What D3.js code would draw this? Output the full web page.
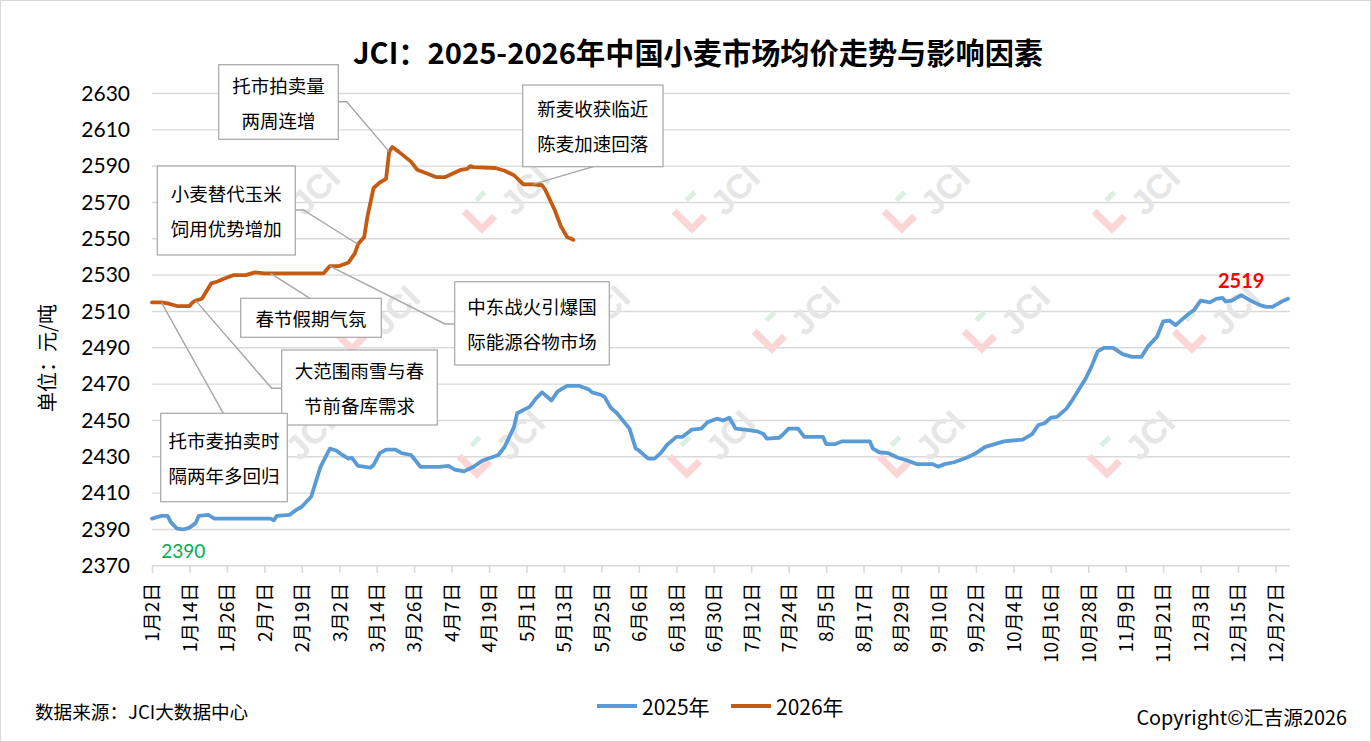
<!DOCTYPE html>
<html>
<head>
<meta charset="utf-8">
<script src="https://cdn.jsdelivr.net/npm/d3@7/dist/d3.min.js"></script>
<style>
  body { margin: 0; background: #fff; }
  svg { display: block; }
</style>
</head>
<body>
<svg id="chart"></svg>
<script>
// 2025 daily average price (flat stretches only at their ends)
const dates2025 = [
  "1-2","1-5","1-7","1-8","1-10","1-12","1-14","1-16","1-17","1-20",
  "1-22","2-9","2-10","2-11","2-15","2-17","2-19","2-22","2-24","2-25",
  "2-28","3-1","3-3","3-5","3-6","3-8","3-12","3-13","3-15","3-17",
  "3-20","3-22","3-25","3-28","4-3","4-6","4-8","4-11","4-14","4-17",
  "4-22","4-24","4-27","4-28","5-2","5-4","5-6","5-9","5-11","5-14",
  "5-18","5-21","5-22","5-25","5-26","5-28","5-30","6-3","6-5","6-6",
  "6-9","6-11","6-13","6-15","6-18","6-20","6-23","6-26","6-28","7-1",
  "7-3","7-5","7-7","7-10","7-14","7-16","7-17","7-21","7-22","7-24",
  "7-27","7-29","8-4","8-5","8-8","8-10","8-19","8-20","8-22","8-25",
  "8-28","8-31","9-3","9-8","9-10","9-12","9-15","9-19","9-22","9-25",
  "9-28","10-1","10-7","10-10","10-12","10-14","10-16","10-18","10-21","10-23",
  "10-25","10-27","10-29","10-31","11-2","11-5","11-8","11-11","11-14","11-16",
  "11-19","11-21","11-23","11-25","11-27","11-29","12-1","12-3","12-6","12-8",
  "12-10","12-11","12-13","12-16","12-19","12-22","12-24","12-26","12-28","12-29",
  "12-31"
];
const values2025 = [
  2396,2397.5,2397.5,2394,2390.5,2390,2391,2393.5,2397.5,2398,
  2396,2396,2395,2397.5,2398,2400.5,2402.5,2408,2419,2424.5,
  2434.5,2433.5,2431,2429,2429.5,2425,2424,2425.5,2432,2434,
  2434,2432,2431,2424.5,2424.5,2425,2423,2422,2424.5,2428,
  2431,2435.5,2446.5,2454,2457.5,2462,2465.5,2461,2466,2469,
  2469,2467,2465.5,2464,2463,2457,2454,2445.5,2434.5,2433.5,
  2429,2429,2432,2436.5,2441,2441,2445,2445.5,2449,2451,
  2450,2451.5,2445.5,2445,2444,2442.5,2440,2440.5,2442,2445.5,
  2445.5,2441,2441,2437,2437,2438.5,2438.5,2434.5,2432.5,2432,
  2429.5,2428,2426,2426,2424.5,2426,2427,2429.5,2432,2435.5,
  2437,2438.5,2439.5,2442.5,2447.5,2448.5,2451.5,2452,2456.5,2461.5,
  2467,2472.5,2479.5,2488,2490,2490,2486.5,2485,2485,2490.5,
  2496,2504.5,2505,2502.5,2505.5,2508.5,2511,2516,2515,2517,
  2517.5,2515.5,2516,2519,2516,2513.5,2512.5,2512.5,2514.5,2515.5,
  2517
];

// 2026 daily average price
const dates2026 = [
  "1-2","1-5","1-7","1-10","1-14","1-15","1-16","1-18","1-21","1-23",
  "1-25","1-28","2-1","2-4","2-7","2-9","2-26","2-28","3-2","3-5",
  "3-7","3-8","3-10","3-11","3-13","3-15","3-17","3-18","3-19","3-21",
  "3-25","3-27","4-2","4-5","4-10","4-12","4-13","4-14","4-21","4-24",
  "4-27","4-30","5-3","5-6","5-7","5-10","5-12","5-14","5-16"
];
const values2026 = [
  2515,2515,2514.5,2513,2513,2515,2516,2517,2525.5,2526.5,
  2528,2530,2530,2531.5,2531,2531,2531,2535,2535,2537,
  2542,2547,2551,2562,2578,2581,2583,2598,2600.5,2598,
  2592.5,2588,2584,2584,2588,2588.5,2590,2589.5,2589,2587.5,
  2585,2580,2580,2579.5,2577,2566,2557,2551,2549.5
];

const xTickLabels = [
  "1月2日","1月14日","1月26日","2月7日","2月19日","3月2日","3月14日","3月26日",
  "4月7日","4月19日","5月1日","5月13日","5月25日","6月6日","6月18日","6月30日",
  "7月12日","7月24日","8月5日","8月17日","8月29日","9月10日","9月22日","10月4日",
  "10月16日","10月28日","11月9日","11月21日","12月3日","12月15日","12月27日"
];
const yTicks = [2370,2390,2410,2430,2450,2470,2490,2510,2530,2550,2570,2590,2610,2630];

const seriesNames = ["2025年","2026年"];

// annotations on the 2026 line
const noteTexts = [
  ["托市拍卖量","两周连增"],
  ["新麦收获临近","陈麦加速回落"],
  ["小麦替代玉米","饲用优势增加"],
  ["春节假期气氛"],
  ["中东战火引爆国","际能源谷物市场"],
  ["大范围雨雪与春","节前备库需求"],
  ["托市麦拍卖时","隔两年多回归"]
];
const noteTargets = ["3-18","5-3","3-8","2-9","2-28","1-16","1-5"];

const maxPoint = {date: "12-16", text: "2519"};
const minPoint = {date: "1-12", text: "2390"};

// ---- layout ----
const W = 1371, H = 742;
const plotL = 152, plotR = 1290, plotT = 93.5, plotB = 565.8;
const blue = "#5b9bd5", orange = "#c55a11", grid = "#d9d9d9";
const cjk = "'Noto Sans CJK SC', 'Noto Sans', sans-serif";

// box geometry for each note: [x, y, w, h], anchor and optional elbow
const noteBoxes = [
  {r: [218.7, 64.7, 119.6, 74.6], a: [338.3, 101.7], e: [346.7, 101.7]},
  {r: [522.7, 85, 140.3, 81.7], a: [593.3, 166.7]},
  {r: [157.3, 166, 138, 89], a: [295.3, 210], e: [303.3, 210]},
  {r: [240.7, 298.3, 140.6, 39], a: [310, 298.3]},
  {r: [454.7, 281.7, 154.6, 83.3], a: [454.7, 324], e: [445, 324]},
  {r: [281.7, 350, 155.6, 75], a: [281.7, 388.3], e: [271.7, 388.3]},
  {r: [160.7, 413.3, 126.6, 88.4], a: [223.3, 413.3]}
];

// leap-year calendar so the month-day categories line up (2月29日 exists)
const parseMD = s => {
  const [m, d] = s.split("-").map(Number);
  return new Date(Date.UTC(2024, m - 1, d));
};
const parseLabel = s => {
  const m = s.match(/(\d+)月(\d+)日/);
  return new Date(Date.UTC(2024, +m[1] - 1, +m[2]));
};

const x = d3.scaleUtc()
  .domain([parseLabel(xTickLabels[0]), parseLabel(xTickLabels[xTickLabels.length - 1])])
  .range([plotL, 1275.5]);
const y = d3.scaleLinear()
  .domain([yTicks[0], yTicks[yTicks.length - 1]])
  .range([plotB, plotT]);

const s2025 = dates2025.map((d, i) => ({date: parseMD(d), v: values2025[i], key: d}));
const s2026 = dates2026.map((d, i) => ({date: parseMD(d), v: values2026[i], key: d}));

const svg = d3.select("#chart").attr("width", W).attr("height", H);

svg.append("rect")
  .attr("x", 0.5).attr("y", 0.5)
  .attr("width", W - 1).attr("height", H - 1)
  .attr("fill", "#fff").attr("stroke", grid);

// title
svg.append("text")
  .attr("x", 698).attr("y", 64)
  .attr("text-anchor", "middle")
  .attr("font-family", cjk).attr("font-weight", "bold")
  .attr("font-size", 29.2)
  .text("JCI：2025-2026年中国小麦市场均价走势与影响因素");

// gridlines
svg.append("g").selectAll("line")
  .data(yTicks.slice(1))
  .join("line")
  .attr("x1", plotL).attr("x2", plotR)
  .attr("y1", d => y(d)).attr("y2", d => y(d))
  .attr("stroke", grid).attr("stroke-width", 1.4);

// y axis (labels only)
const yAxis = svg.append("g")
  .attr("transform", `translate(${plotL},0)`)
  .call(d3.axisLeft(y).tickValues(yTicks).tickSize(0).tickPadding(22).tickFormat(d3.format("d")));
yAxis.select(".domain").remove();
yAxis.selectAll("text")
  .attr("font-family", "Lato, 'Noto Sans', sans-serif")
  .attr("font-size", 21).attr("fill", "#000");

// x axis
const xAxis = svg.append("g")
  .attr("transform", `translate(0,${plotB})`)
  .call(d3.axisBottom(x)
    .tickValues(xTickLabels.map(parseLabel))
    .tickSize(7)
    .tickSizeOuter(0)
    .tickFormat((d, i) => xTickLabels[i]));
xAxis.select(".domain").attr("d", `M${plotL},0H${plotR}`).attr("stroke", grid).attr("stroke-width", 1.6);
xAxis.selectAll(".tick line").attr("stroke", grid).attr("stroke-width", 1.6);
xAxis.selectAll(".tick text")
  .attr("font-family", cjk).attr("font-size", 19).attr("fill", "#000")
  .attr("text-anchor", "end")
  .attr("transform", "rotate(-90)")
  .attr("x", -17).attr("y", 0).attr("dy", "0.36em");

// watermarks
const wmRows = [
  {y: 190, xs: [315, 525, 735, 945, 1155]},
  {y: 310, xs: [395, 605, 815, 1025, 1235]},
  {y: 435, xs: [310, 520, 730, 940, 1150]}
];
const wm = svg.append("g").attr("pointer-events", "none");
wmRows.forEach(r => r.xs.forEach(cx => {
  const g = wm.append("g").attr("transform", `translate(${cx},${r.y}) rotate(-45)`);
  g.append("path").attr("d", "M-58,-28V-3H-40")
    .attr("fill", "none").attr("stroke", "#fcd6d6").attr("stroke-width", 7);
  g.append("path").attr("d", "M-42,-27H-30")
    .attr("stroke", "#d9f0e3").attr("stroke-width", 5);
  g.append("text").attr("x", 0).attr("y", 0)
    .attr("text-anchor", "middle").attr("dominant-baseline", "central")
    .attr("font-family", "'Liberation Sans', sans-serif").attr("font-weight", "bold")
    .attr("font-size", 34).attr("fill", "#e6e6e6")
    .text("JCI");
}));

// lines
const line = d3.line().x(d => x(d.date)).y(d => y(d.v));
svg.append("path").datum(s2025)
  .attr("d", line).attr("fill", "none")
  .attr("stroke", blue).attr("stroke-width", 3.8)
  .attr("stroke-linejoin", "round").attr("stroke-linecap", "round");
svg.append("path").datum(s2026)
  .attr("d", line).attr("fill", "none")
  .attr("stroke", orange).attr("stroke-width", 3.8)
  .attr("stroke-linejoin", "round").attr("stroke-linecap", "round");

// extreme labels
const pMax = s2025.find(d => d.key === maxPoint.date);
svg.append("text")
  .attr("x", x(pMax.date)).attr("y", y(pMax.v) - 7)
  .attr("text-anchor", "middle")
  .attr("font-family", "Lato, 'Noto Sans', sans-serif").attr("font-weight", "bold")
  .attr("font-size", 20).attr("fill", "#ff0000")
  .text(maxPoint.text);
const pMin = s2025.find(d => d.key === minPoint.date);
svg.append("text")
  .attr("x", x(pMin.date)).attr("y", y(pMin.v) + 29)
  .attr("text-anchor", "middle")
  .attr("font-family", "Lato, 'Noto Sans', sans-serif")
  .attr("font-size", 19).attr("fill", "#00b050")
  .text(minPoint.text);

// annotation boxes with leader lines
const notes = svg.append("g");
noteTexts.forEach((lines, i) => {
  const b = noteBoxes[i];
  const p = s2026.find(d => d.key === noteTargets[i]);
  const pts = [b.a];
  if (b.e) pts.push(b.e);
  pts.push([x(p.date), y(p.v)]);
  notes.append("path")
    .attr("d", d3.line()(pts))
    .attr("fill", "none").attr("stroke", "#a6a6a6").attr("stroke-width", 1.4);
  const [bx, by, bw, bh] = b.r;
  notes.append("rect")
    .attr("x", bx).attr("y", by).attr("width", bw).attr("height", bh)
    .attr("fill", "#fff").attr("stroke", "#a6a6a6").attr("stroke-width", 1.2);
  const cy = by + bh / 2;
  const gap = 35;
  lines.forEach((t, j) => {
    notes.append("text")
      .attr("x", bx + bw / 2)
      .attr("y", cy + (j - (lines.length - 1) / 2) * gap)
      .attr("text-anchor", "middle").attr("dominant-baseline", "central")
      .attr("font-family", cjk).attr("font-size", 18.5).attr("fill", "#000")
      .text(t);
  });
});

// y axis title
svg.append("text")
  .attr("transform", "translate(46,358) rotate(-90)")
  .attr("text-anchor", "middle").attr("dominant-baseline", "central")
  .attr("font-family", cjk).attr("font-size", 20)
  .text("单位：元/吨");

// legend
const legend = svg.append("g");
[[blue, 597, 642], [orange, 731, 776]].forEach(([c, x0, tx], i) => {
  legend.append("line")
    .attr("x1", x0).attr("x2", x0 + 40).attr("y1", 706).attr("y2", 706)
    .attr("stroke", c).attr("stroke-width", 3.8);
  legend.append("text")
    .attr("x", tx).attr("y", 706)
    .attr("dominant-baseline", "central")
    .attr("font-family", cjk).attr("font-size", 21)
    .text(seriesNames[i]);
});

// footer
svg.append("text")
  .attr("x", 35).attr("y", 710).attr("dominant-baseline", "central")
  .attr("font-family", cjk).attr("font-size", 18.6)
  .text("数据来源：JCI大数据中心");
svg.append("text")
  .attr("x", 1347).attr("y", 716).attr("dominant-baseline", "central")
  .attr("text-anchor", "end")
  .attr("font-family", cjk).attr("font-size", 19.8)
  .text("Copyright©汇吉源2026");
</script>
</body>
</html>
